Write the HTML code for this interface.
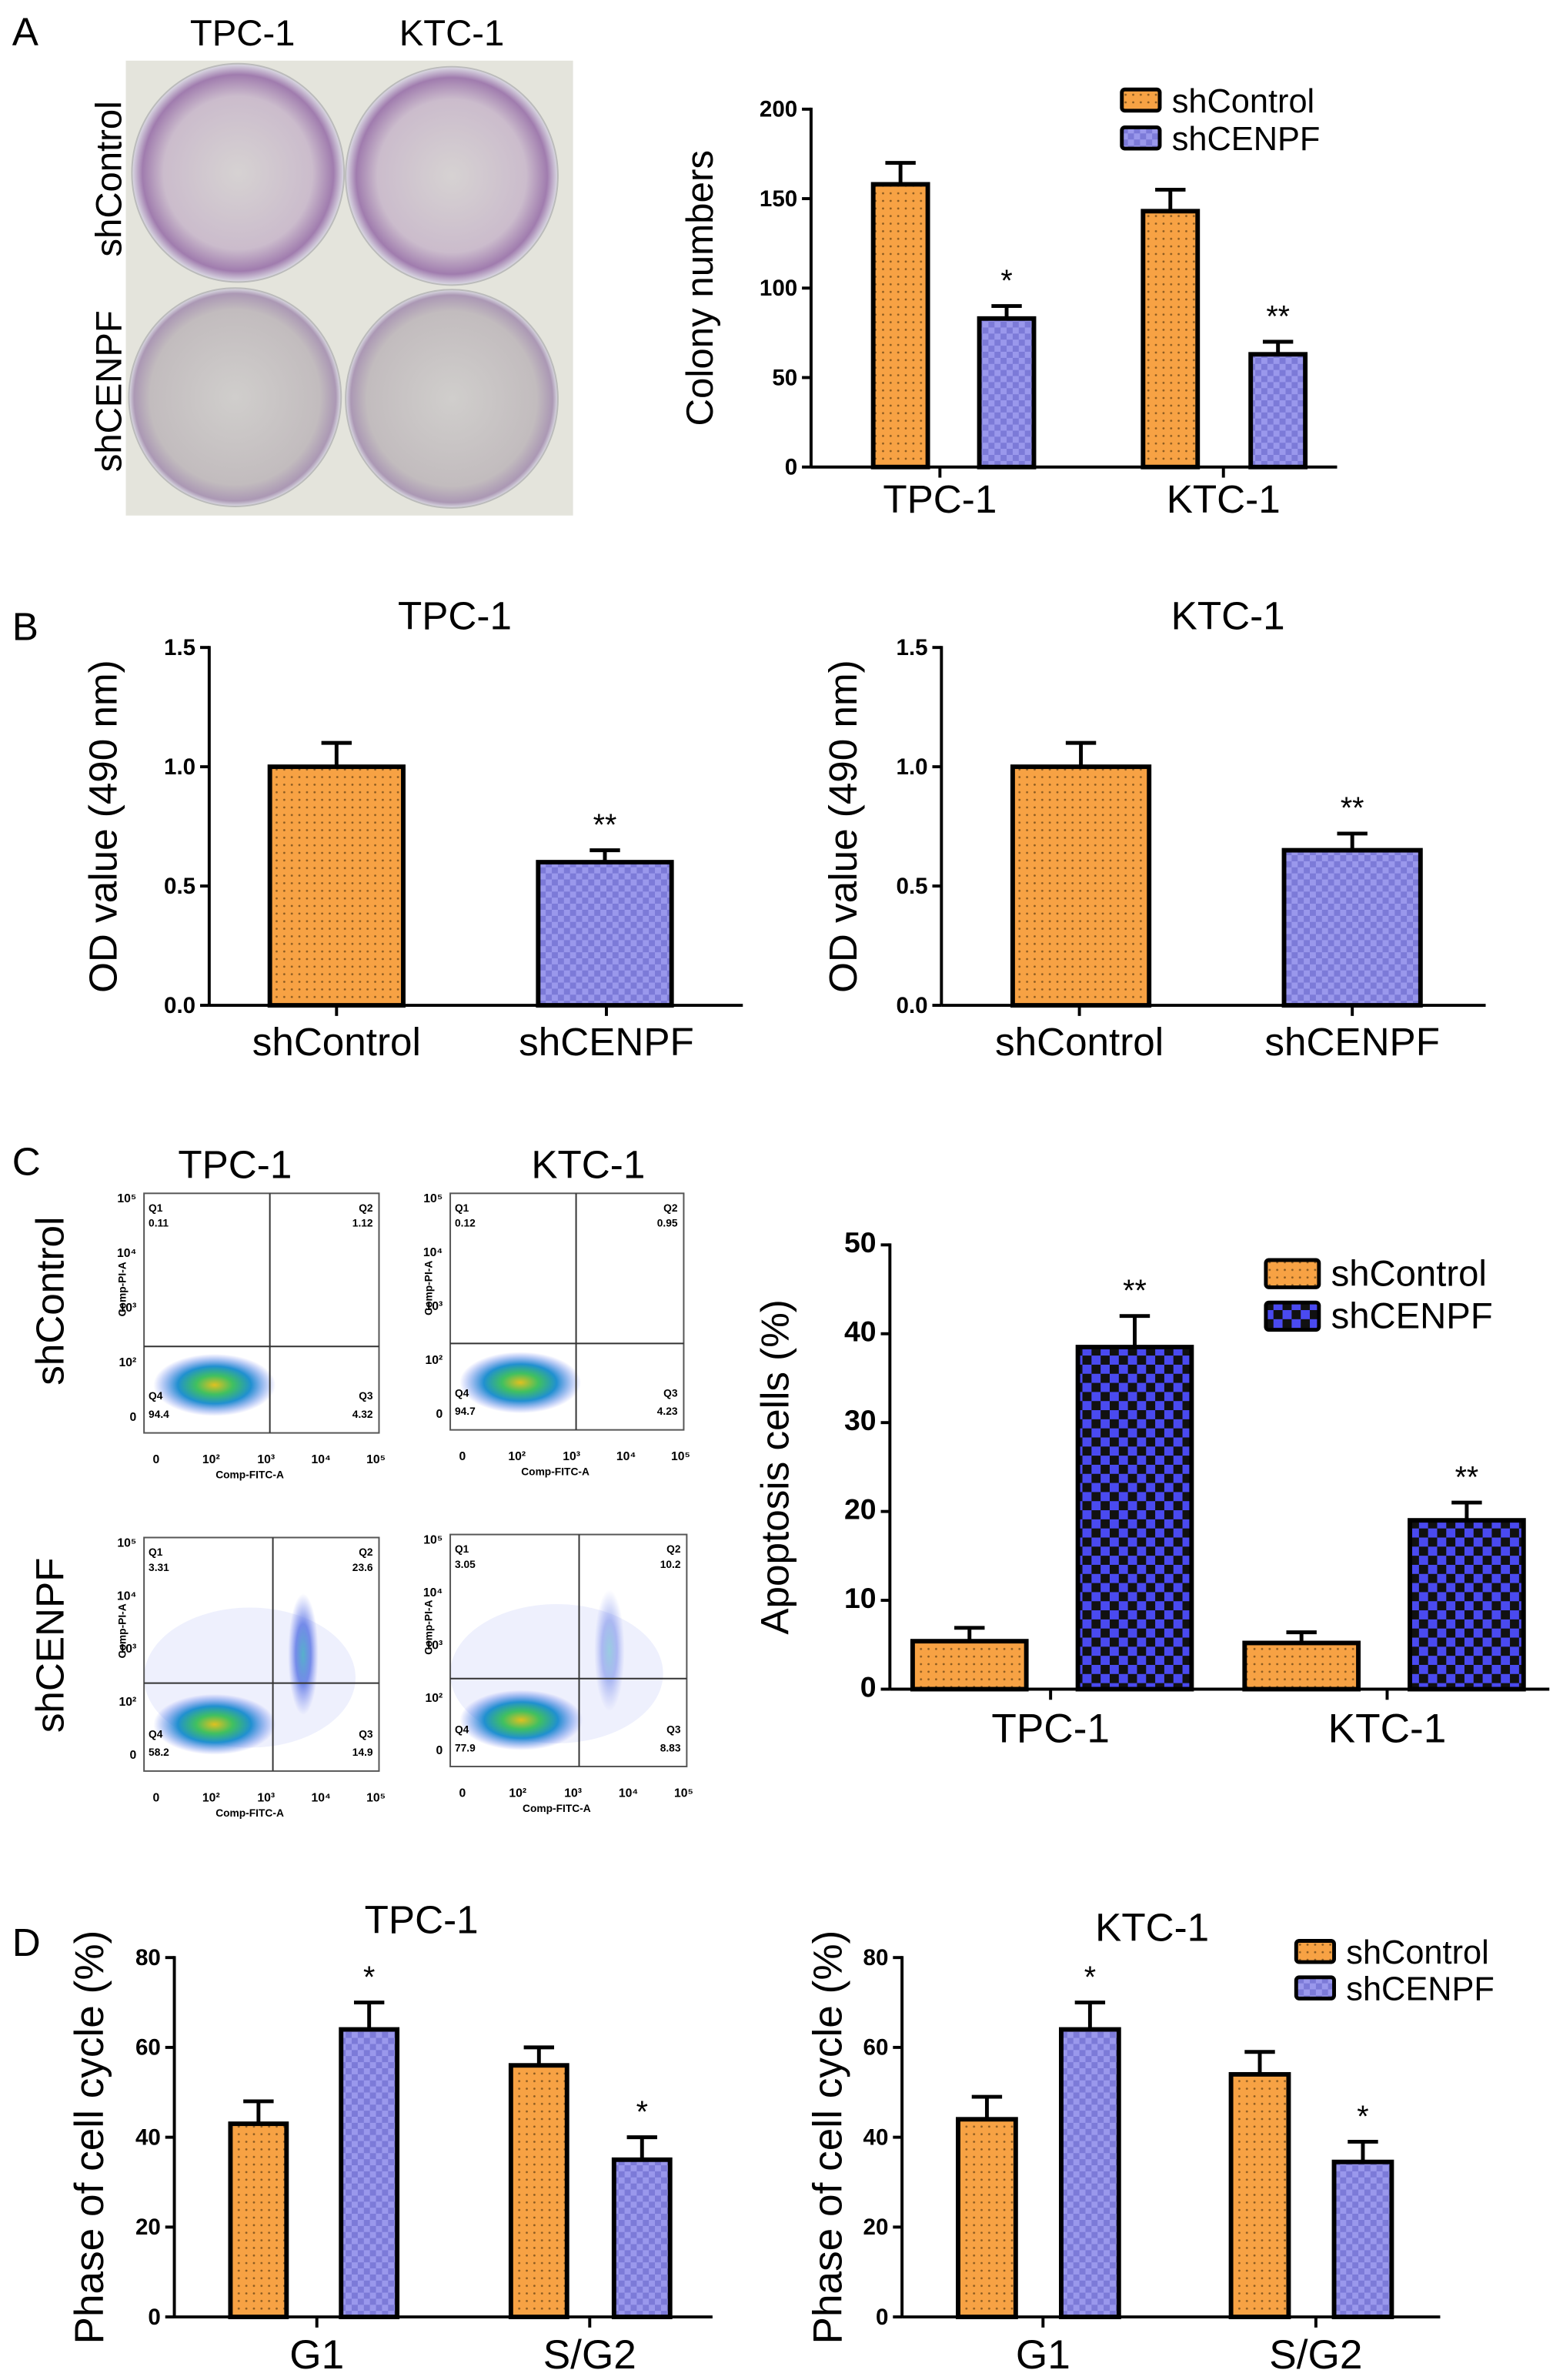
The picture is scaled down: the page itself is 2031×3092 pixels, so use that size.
<!DOCTYPE html>
<html><head><meta charset="utf-8"><style>
html,body{margin:0;padding:0;background:#fff}
svg{display:block}
text{font-family:"Liberation Sans",sans-serif}
</style></head><body>
<svg id="fig" width="2031" height="3092" viewBox="0 0 1031 1569.6" xmlns="http://www.w3.org/2000/svg">
<defs>
<pattern id="dotP" width="5" height="5" patternUnits="userSpaceOnUse"><rect width="5" height="5" fill="#F7A244"/><circle cx="2.5" cy="2.5" r="0.7" fill="#8a5a20"/></pattern>
<pattern id="chkP" width="8" height="8" patternUnits="userSpaceOnUse"><rect width="8" height="8" fill="#9a98ec"/><rect width="4" height="4" fill="#7c7ad8"/><rect x="4" y="4" width="4" height="4" fill="#7c7ad8"/></pattern>
<pattern id="chkD" width="12" height="12" patternUnits="userSpaceOnUse"><rect width="12" height="12" fill="#4a4af0"/><rect width="6" height="6" fill="#111"/><rect x="6" y="6" width="6" height="6" fill="#111"/></pattern>
<radialGradient id="dish1" cx="50%" cy="50%" r="50%"><stop offset="0" stop-color="#d6d2d2"/><stop offset="0.7" stop-color="#cbbccc"/><stop offset="0.9" stop-color="#a07cae"/><stop offset="1" stop-color="#dcdce4"/></radialGradient>
<radialGradient id="dish2" cx="50%" cy="50%" r="50%"><stop offset="0" stop-color="#d0cecc"/><stop offset="0.8" stop-color="#c2bcbe"/><stop offset="0.95" stop-color="#ab98b4"/><stop offset="1" stop-color="#dcdce4"/></radialGradient>
<radialGradient id="cloud" cx="50%" cy="50%" r="50%"><stop offset="0" stop-color="#e0c020"/><stop offset="0.3" stop-color="#40c060"/><stop offset="0.6" stop-color="#2090d0"/><stop offset="1" stop-color="#5a6af0" stop-opacity="0"/></radialGradient>
<radialGradient id="cloud2" cx="50%" cy="50%" r="50%"><stop offset="0" stop-color="#40b0c0"/><stop offset="0.5" stop-color="#4060e0" stop-opacity="0.8"/><stop offset="1" stop-color="#6a7af0" stop-opacity="0"/></radialGradient>
</defs>

<text x="8" y="30" font-size="26">A</text>
<text x="160" y="30" font-size="24" text-anchor="middle">TPC-1</text>
<text x="298" y="30" font-size="24" text-anchor="middle">KTC-1</text>
<text transform="translate(80,118) rotate(-90)" font-size="24" text-anchor="middle">shControl</text>
<text transform="translate(80,258) rotate(-90)" font-size="24" text-anchor="middle">shCENPF</text>
<g>
<rect x="83" y="40" width="295" height="300" fill="#e4e4dc"/>
<ellipse cx="157" cy="114" rx="70" ry="72" fill="url(#dish1)" stroke="#bbb"/>
<ellipse cx="298" cy="116" rx="70" ry="72" fill="url(#dish1)" stroke="#bbb"/>
<ellipse cx="155" cy="262" rx="70" ry="72" fill="url(#dish2)" stroke="#bbb"/>
<ellipse cx="298" cy="263" rx="70" ry="72" fill="url(#dish2)" stroke="#bbb"/>
</g>

<text x="8" y="422" font-size="26">B</text>
<text x="8" y="775" font-size="26">C</text>
<text x="8" y="1290" font-size="26">D</text>

<g id="charts"></g>
<g id="flow"></g>
</svg>
<script>
// Panel A colony
const colonyCats = ["TPC-1","KTC-1"];
const colonyCtrl = [158,143];
const colonyCtrlErr = [12,12];
const colonyCenpf = [83,63];
const colonyCenpfErr = [7,7];
const colonyTicks = [0,50,100,150,200];
const colonySig = ["*","**"];
// Panel B OD
const odCats = ["shControl","shCENPF"];
const odTpc = [1.0,0.6];
const odTpcErr = [0.1,0.05];
const odKtc = [1.0,0.65];
const odKtcErr = [0.1,0.07];
const odTicks = [0.0,0.5,1.0,1.5];
const odSig = ["","**"];
// Panel C apoptosis
const apoCats = ["TPC-1","KTC-1"];
const apoCtrl = [5.4,5.2];
const apoCtrlErr = [1.5,1.2];
const apoCenpf = [38.5,19];
const apoCenpfErr = [3.5,2];
const apoTicks = [0,10,20,30,40,50];
const apoSig = ["**","**"];
// Panel D cell cycle
const ccCats = ["G1","S/G2"];
const ccTpcCtrl = [43,56];
const ccTpcCtrlErr = [5,4];
const ccTpcCenpf = [64,35];
const ccTpcCenpfErr = [6,5];
const ccKtcCtrl = [44,54];
const ccKtcCtrlErr = [5,5];
const ccKtcCenpf = [64,34.5];
const ccKtcCenpfErr = [6,4.5];
const ccTicks = [0,20,40,60,80];
const ccSig = ["*","*"];
// Flow quadrant percentages
const flowLabels = [["0.11","1.12","4.32","94.4"],["0.12","0.95","4.23","94.7"],["3.31","23.6","14.9","58.2"],["3.05","10.2","8.83","77.9"]];

const NS="http://www.w3.org/2000/svg";
const root=document.getElementById('charts');
function el(tag,attrs,parent){const e=document.createElementNS(NS,tag);for(const k in attrs)e.setAttribute(k,attrs[k]);(parent||root).appendChild(e);return e;}
function txt(x,y,s,size,attrs,parent){const t=el('text',Object.assign({x:x,y:y,'font-size':size},attrs||{}),parent);t.textContent=s;return t;}

function chart(cfg){
  const g=el('g',{});
  
  
  const max=cfg.ticks[cfg.ticks.length-1];
  const y=v=>cfg.y0-(v/max)*(cfg.y0-cfg.y1);
  cfg.series.forEach((s,si)=>{
    s.vals.forEach((v,i)=>{
      if(isNaN(v))return;
      const bx=cfg.barX[i][si], bw=cfg.barW[i]||cfg.barW;
      const top=y(v);
      const eTop=y(v+s.err[i]);
      const cx=bx+bw/2;
      const e1=el('line',{x1:cx,y1:top,x2:cx,y2:eTop,stroke:'#000','stroke-width':2.5},g);
      
      
      const e2=el('line',{x1:cx-10,y1:eTop,x2:cx+10,y2:eTop,stroke:'#000','stroke-width':2.5},g);
      
      
      const r=el('rect',{x:bx,y:top,width:bw,height:cfg.y0-top,fill:s.fill,stroke:'#000','stroke-width':3},g);
      
      
      if(si===1&&cfg.sig[i]){const t=txt(cx,eTop-10,cfg.sig[i],cfg.sigSize||20,{'text-anchor':'middle'},g);
        
        }
    });
  });
  const ax=el('line',{x1:cfg.x0,y1:cfg.y1-1,x2:cfg.x0,y2:cfg.y0,stroke:'#000','stroke-width':2},g);
  
  
  const xa=el('line',{x1:cfg.x0,y1:cfg.y0,x2:cfg.xEnd,y2:cfg.y0,stroke:'#000','stroke-width':2},g);
  
  
  cfg.ticks.forEach(t=>{
    const yy=y(t);
    el('line',{x1:cfg.x0-6,y1:yy,x2:cfg.x0,y2:yy,stroke:'#000','stroke-width':2},g);
    const lb=txt(cfg.x0-9,yy+5,cfg.tickFmt?cfg.tickFmt(t):String(t),cfg.tickSize||15,{'text-anchor':'end','font-weight':'bold'},g);
    
    
  });
  cfg.cats.forEach((c,i)=>{
    const cx=cfg.catX[i];
    el('line',{x1:cx,y1:cfg.y0,x2:cx,y2:cfg.y0+7,stroke:'#000','stroke-width':2},g);
    const lb=txt(cx,cfg.y0+cfg.catDy,c,cfg.catSize,{'text-anchor':'middle'},g);
    
    
  });
  const yt=txt(0,0,cfg.ytitle,cfg.ytSize,{'text-anchor':'middle',transform:`translate(${cfg.ytX},${(cfg.y0+cfg.y1)/2}) rotate(-90)`},g);
  
  
  if(cfg.title){const t=txt(cfg.title[1],cfg.title[2],cfg.title[0],26,{'text-anchor':'middle'},g);
    
    }
  if(cfg.legend){
    const L=cfg.legend;
    cfg.series.forEach((s,si)=>{
      const lg=el('g',{},g);
      
      
      el('rect',{x:L.x,y:L.y+si*L.dy-L.h/2,width:L.w,height:L.h,fill:s.fill,stroke:'#000','stroke-width':2.5,rx:2},lg);
      txt(L.x+L.w+8,L.y+si*L.dy+8,s.label,L.size,{},lg);
    });
  }
}

chart({name:'colony-chart',cats:colonyCats,x0:535,y0:308,y1:72,xEnd:882,ticks:colonyTicks,
  series:[{key:'shcontrol',label:'shControl',vals:colonyCtrl,err:colonyCtrlErr,fill:'url(#dotP)'},
          {key:'shcenpf',label:'shCENPF',vals:colonyCenpf,err:colonyCenpfErr,fill:'url(#chkP)'}],
  barX:[[576,646],[754,825]],barW:36,catX:[620,807],catDy:30,catSize:26,sig:colonySig,
  ytitle:'Colony numbers',ytSize:25,ytX:470,
  legend:{x:740,y:66,dy:25,w:25,h:14,size:22}});
chart({name:'od-chart-tpc1',cats:odCats,x0:138,y0:663,y1:427,xEnd:490,ticks:odTicks,tickFmt:t=>t.toFixed(1),
  series:[{key:'shcontrol',label:'shControl',vals:[odTpc[0],NaN],err:[odTpcErr[0],0],fill:'url(#dotP)'},
          {key:'shcenpf',label:'shCENPF',vals:[NaN,odTpc[1]],err:[0,odTpcErr[1]],fill:'url(#chkP)'}],
  barX:[[178,178],[355,355]],barW:88,catX:[222,400],catDy:33,catSize:26,sig:odSig,
  ytitle:'OD value (490 nm)',ytSize:26,ytX:77,title:['TPC-1',300,415]});
chart({name:'od-chart-ktc1',cats:odCats,x0:621,y0:663,y1:427,xEnd:980,ticks:odTicks,tickFmt:t=>t.toFixed(1),
  series:[{key:'shcontrol',label:'shControl',vals:[odKtc[0],NaN],err:[odKtcErr[0],0],fill:'url(#dotP)'},
          {key:'shcenpf',label:'shCENPF',vals:[NaN,odKtc[1]],err:[0,odKtcErr[1]],fill:'url(#chkP)'}],
  barX:[[668,668],[847,847]],barW:90,catX:[712,892],catDy:33,catSize:26,sig:odSig,
  ytitle:'OD value (490 nm)',ytSize:26,ytX:565,title:['KTC-1',810,415]});
chart({name:'apoptosis-chart',cats:apoCats,x0:587,y0:1114,y1:821,xEnd:1022,ticks:apoTicks,tickSize:19,
  series:[{key:'shcontrol',label:'shControl',vals:apoCtrl,err:apoCtrlErr,fill:'url(#dotP)'},
          {key:'shcenpf',label:'shCENPF',vals:apoCenpf,err:apoCenpfErr,fill:'url(#chkD)'}],
  barX:[[602,711],[821,930]],barW:75,catX:[693,915],catDy:35,catSize:27,sig:apoSig,
  ytitle:'Apoptosis cells (%)',ytSize:26,ytX:520,
  legend:{x:835,y:840,dy:28,w:35,h:18,size:24}});
chart({name:'cell-cycle-chart-tpc1',cats:ccCats,x0:115,y0:1528,y1:1291,xEnd:470,ticks:ccTicks,
  series:[{key:'shcontrol',label:'shControl',vals:ccTpcCtrl,err:ccTpcCtrlErr,fill:'url(#dotP)'},
          {key:'shcenpf',label:'shCENPF',vals:ccTpcCenpf,err:ccTpcCenpfErr,fill:'url(#chkP)'}],
  barX:[[152,225],[337,405]],barW:37,catX:[209,389],catDy:34,catSize:27,sig:ccSig,
  ytitle:'Phase of cell cycle (%)',ytSize:27,ytX:68,title:['TPC-1',278,1275]});
chart({name:'cell-cycle-chart-ktc1',cats:ccCats,x0:595,y0:1528,y1:1291,xEnd:950,ticks:ccTicks,
  series:[{key:'shcontrol',label:'shControl',vals:ccKtcCtrl,err:ccKtcCtrlErr,fill:'url(#dotP)'},
          {key:'shcenpf',label:'shCENPF',vals:ccKtcCenpf,err:ccKtcCenpfErr,fill:'url(#chkP)'}],
  barX:[[632,700],[812,880]],barW:38,catX:[688,868],catDy:34,catSize:27,sig:ccSig,
  ytitle:'Phase of cell cycle (%)',ytSize:27,ytX:555,title:['KTC-1',760,1280],
  legend:{x:855,y:1287,dy:24,w:25,h:14,size:22}});

// Flow plots
const flow=document.getElementById('flow');
const boxes=[[95,787,155,158,178,888],[297,787,154,156,380,886],[95,1014,155,154,180,1110],[297,1012,156,153,382,1107]];
const c1=txt(155,777,'TPC-1',26,{'text-anchor':'middle'},flow);

const c2=txt(388,777,'KTC-1',26,{'text-anchor':'middle'},flow);

const r1=txt(0,0,'shControl',26,{'text-anchor':'middle',transform:'translate(42,858) rotate(-90)'},flow);

const r2=txt(0,0,'shCENPF',26,{'text-anchor':'middle',transform:'translate(42,1085) rotate(-90)'},flow);

boxes.forEach((b,i)=>{
  const g=el('g',{},flow);
  
  
  const [x,y,w,h,vx,hy]=b;
  if(i>=2){el('ellipse',{cx:vx+20,cy:y+h*0.5,rx:10,ry:40,fill:'url(#cloud2)',opacity:i===2?0.9:0.5},g);
           el('ellipse',{cx:x+w*0.45,cy:y+h*0.6,rx:w*0.45,ry:h*0.3,fill:'#7080f0',opacity:0.12},g);}
  el('ellipse',{cx:x+w*0.3,cy:y+h*0.8,rx:w*0.26,ry:h*0.13,fill:'url(#cloud)'},g);
  el('rect',{x:x,y:y,width:w,height:h,fill:'none',stroke:'#555','stroke-width':1},g);
  el('line',{x1:vx,y1:y,x2:vx,y2:y+h,stroke:'#333','stroke-width':1},g);
  el('line',{x1:x,y1:hy,x2:x+w,y2:hy,stroke:'#333','stroke-width':1},g);
  const L=flowLabels[i];
  txt(x+3,y+12,'Q1',7,{'font-weight':'bold'},g);txt(x+3,y+22,L[0],7,{'font-weight':'bold'},g);
  txt(x+w-4,y+12,'Q2',7,{'font-weight':'bold','text-anchor':'end'},g);txt(x+w-4,y+22,L[1],7,{'font-weight':'bold','text-anchor':'end'},g);
  txt(x+w-4,y+h-22,'Q3',7,{'font-weight':'bold','text-anchor':'end'},g);txt(x+w-4,y+h-10,L[2],7,{'font-weight':'bold','text-anchor':'end'},g);
  txt(x+3,y+h-22,'Q4',7,{'font-weight':'bold'},g);txt(x+3,y+h-10,L[3],7,{'font-weight':'bold'},g);
  ['0','10²','10³','10⁴','10⁵'].forEach((s,k)=>{
    txt(x+8+k*(w-10)/4,y+h+20,s,8,{'font-weight':'bold','text-anchor':'middle'},g);
    txt(x-5,y+h-8-k*(h-14)/4,s,8,{'font-weight':'bold','text-anchor':'end'},g);
  });
  txt(x+w*0.45,y+h+30,'Comp-FITC-A',7,{'font-weight':'bold','text-anchor':'middle'},g);
  txt(0,0,'Comp-PI-A',7,{'font-weight':'bold','text-anchor':'middle',transform:`translate(${x-12},${y+h*0.4}) rotate(-90)`},g);
});
</script>
</body></html>
